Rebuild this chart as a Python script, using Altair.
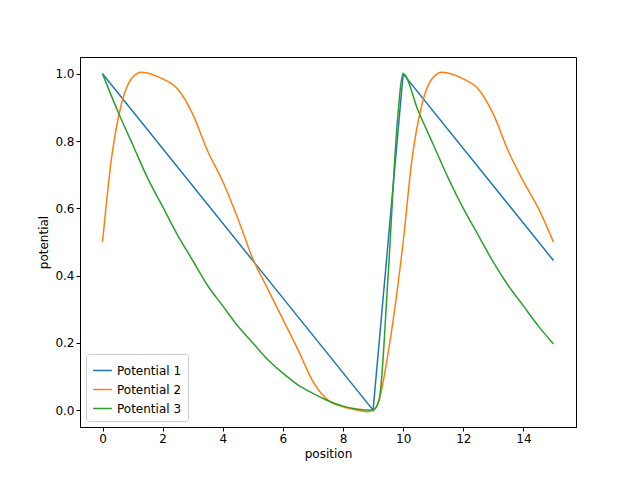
import pandas as pd
import altair as alt

# ------------------------------------------------------------
# Data
# ------------------------------------------------------------
p1_x = [0, 9, 10, 15]
p1_y = [1.0, 0.0, 1.0, 0.445]

p2_x = [0, 0.3, 0.6, 1.0, 1.3, 2.0, 2.5, 3.0, 3.5, 4.0, 4.5, 5.0, 5.5, 6.0, 6.5,
        7.0, 7.5, 8.0, 8.5, 8.8, 9.0, 9.2, 9.5, 10.0, 10.3, 10.6, 11.0, 11.3,
        12.0, 12.5, 13.0, 13.5, 14.0, 14.5, 15.0]
p2_y = [0.5, 0.75, 0.9, 0.99, 1.005, 0.985, 0.955, 0.88, 0.77, 0.68, 0.57, 0.45,
        0.36, 0.27, 0.18, 0.085, 0.03, 0.01, 0.0, -0.005, 0.0, 0.03, 0.17, 0.5,
        0.75, 0.9, 0.99, 1.005, 0.985, 0.955, 0.88, 0.77, 0.68, 0.6, 0.5]

p3_x = [0, 0.5, 1, 1.5, 2, 2.5, 3, 3.5, 4, 4.5, 5, 5.5, 6, 6.5, 7, 7.5, 8, 8.5,
        9, 9.2, 9.5, 9.8, 10, 10.5, 11, 11.5, 12, 12.5, 13, 13.5, 14, 14.5, 15]
p3_y = [1.0, 0.89, 0.79, 0.69, 0.605, 0.52, 0.445, 0.37, 0.31, 0.25, 0.2, 0.15,
        0.11, 0.075, 0.05, 0.028, 0.012, 0.003, 0.0, 0.03, 0.4, 0.85, 1.0, 0.89,
        0.79, 0.69, 0.6, 0.52, 0.44, 0.37, 0.31, 0.25, 0.197]

names = ["Potential 1", "Potential 2", "Potential 3"]
rows = []
for name, xs, ys in zip(names, [p1_x, p2_x, p3_x], [p1_y, p2_y, p3_y]):
    for i, (x, y) in enumerate(zip(xs, ys)):
        rows.append({"series": name, "position": x, "potential": y, "order": i})
df = pd.DataFrame(rows)

font = "DejaVu Sans"

base = alt.Chart(df).encode(
    x=alt.X("position:Q", title="position",
            scale=alt.Scale(domain=[-0.75, 15.75], nice=False, zero=False),
            axis=alt.Axis(values=list(range(0, 15, 2)), grid=False, tickSize=4)),
    y=alt.Y("potential:Q", title="potential",
            scale=alt.Scale(domain=[-0.05, 1.05], nice=False),
            axis=alt.Axis(values=[0, 0.2, 0.4, 0.6, 0.8, 1.0], format=".1f",
                          grid=False, tickSize=4)),
    color=alt.Color("series:N", title=None,
                    scale=alt.Scale(domain=names,
                                    range=["#1f77b4", "#ff7f0e", "#2ca02c"]),
                    legend=alt.Legend(orient="bottom-left", symbolType="stroke",
                                      symbolSize=350, symbolStrokeWidth=1.5,
                                      strokeColor="#cccccc", padding=6,
                                      cornerRadius=3, fillColor="white",
                                      labelFontSize=12, labelFont=font,
                                      offset=6)),
    order="order:Q",
)

straight = base.transform_filter(alt.datum.series == "Potential 1").mark_line(strokeWidth=1.5)
smooth = base.transform_filter(alt.datum.series != "Potential 1").mark_line(
    strokeWidth=1.5, interpolate="monotone")

chart = (
    alt.layer(straight, smooth)
      .properties(width=496, height=370, autosize="none",
                  padding={"left": 72, "top": 49, "right": 56, "bottom": 45})
      .configure_axis(labelFont=font, titleFont=font, labelFontSize=12, titleFontSize=12,
                      titleFontWeight="normal", domainColor="black", tickColor="black",
                      labelColor="black", titleColor="black")
      .configure_view(stroke="black", strokeWidth=1)
)

chart.save("out.html", embed_options={"renderer": "svg", "actions": False})
